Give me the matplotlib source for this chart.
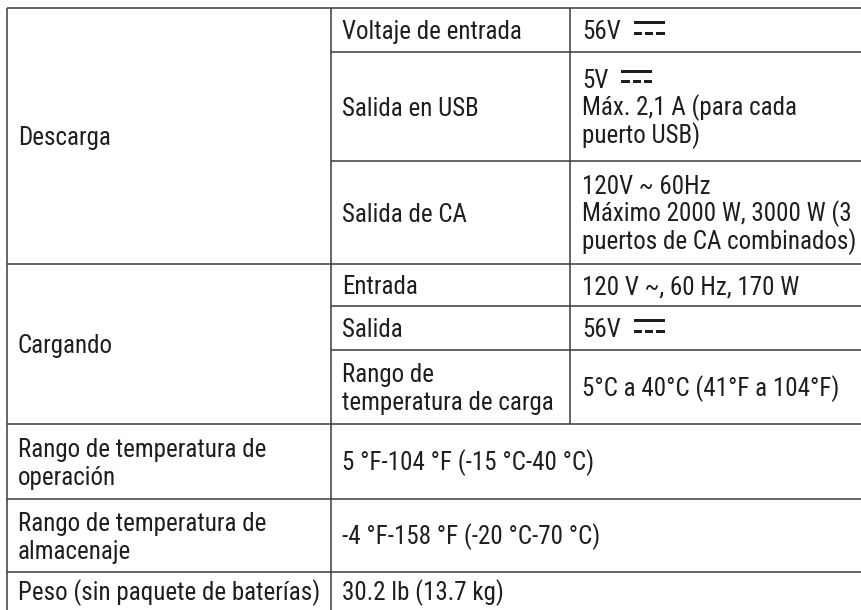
import matplotlib.pyplot as plt
from matplotlib import font_manager
from matplotlib.patches import Rectangle

# contenido de la tabla
DC = "{DC}"
descarga_labels = [["Voltaje de entrada"], ["Salida en USB"], ["Salida de CA"]]
descarga_values = [["56V" + DC],
                   ["5V" + DC, "Máx. 2,1 A (para cada", "puerto USB)"],
                   ["120V ~ 60Hz", "Máximo 2000 W, 3000 W (3", "puertos de CA combinados)"]]
cargando_labels = [["Entrada"], ["Salida"], ["Rango de", "temperatura de carga"]]
cargando_values = [["120 V ~, 60 Hz, 170 W"], ["56V" + DC], ["5°C a 40°C (41°F a 104°F)"]]
group_labels = ["Descarga", "Cargando"]
extra_labels = [["Rango de temperatura de", "operación"],
                ["Rango de temperatura de", "almacenaje"],
                ["Peso (sin paquete de baterías)"]]
extra_values = [["5 °F-104 °F (-15 °C-40 °C)"],
                ["-4 °F-158 °F (-20 °C-70 °C)"],
                ["30.2 lb (13.7 kg)"]]

# geometría (en píxeles)
W, H = 862, 610
col_x = [7, 331, 570, W]
row_y = [8, 52, 161, 264, 306, 350, 424, 499, 572, 614]
pad = [11, 11, 12]
FS = 18
CAP = 18
LEAD = 28
TXT = "#1e1e1e"
LINE = "#3c3c3c"
LW = 1.1

# fuente condensada, la primera que exista
installed = {f.name for f in font_manager.fontManager.ttflist}
candidates = ["Roboto Condensed", "Archivo Narrow", "PT Sans Narrow",
              "Pragati Narrow", "Asap Condensed", "Barlow Condensed"]
chosen = [c for c in candidates if c in installed][:1]
plt.rcParams["font.family"] = chosen + ["DejaVu Sans"]

fig = plt.figure(figsize=(W / 100, H / 100), dpi=100)
ax = fig.add_axes([0, 0, 1, 1])
ax.set_xlim(0, W)
ax.set_ylim(H, 0)
ax.axis("off")
renderer = fig.canvas.get_renderer()


# símbolo de corriente continua (línea sólida + tres guiones)
def dc_symbol(x0, base):
    w, gap, th = 31, 3, 3
    top = base - CAP
    ax.add_patch(Rectangle((x0, top), w, th, color=TXT, lw=0))
    dw = (w - 2 * gap) / 3
    for k in range(3):
        ax.add_patch(Rectangle((x0 + k * (dw + gap), top + 10.5), dw, th, color=TXT, lw=0))


def cell(x, y0, y1, lines):
    yc = (y0 + y1) / 2
    n = len(lines)
    for i, s in enumerate(lines):
        base = yc + (i - (n - 1) / 2) * LEAD + CAP / 2
        has_dc = s.endswith(DC)
        if has_dc:
            s = s[:-len(DC)]
        t = ax.text(x, base, s, ha="left", va="baseline", fontsize=FS, color=TXT)
        if has_dc:
            bb = t.get_window_extent(renderer)
            dc_symbol(bb.x1 + 13, base)


# líneas de la cuadrícula
def hline(y, x0, x1=W):
    ax.plot([x0, x1], [y, y], color=LINE, lw=LW, solid_capstyle="butt")


def vline(x, y0, y1):
    ax.plot([x, x], [y0, y1], color=LINE, lw=LW, solid_capstyle="butt")


for j, y in enumerate(row_y):
    full = j in (0, 3, 6, 7, 8, 9)
    hline(y, col_x[0] if full else col_x[1])
vline(col_x[0], row_y[0], row_y[-1])
vline(col_x[1], row_y[0], row_y[-1])
vline(col_x[2], row_y[0], row_y[6])

# textos
cell(col_x[0] + pad[0], row_y[0], row_y[3], [group_labels[0]])
cell(col_x[0] + pad[0], row_y[3], row_y[6], [group_labels[1]])
sub_labels = descarga_labels + cargando_labels
sub_values = descarga_values + cargando_values
for i in range(6):
    cell(col_x[1] + pad[1], row_y[i], row_y[i + 1], sub_labels[i])
    cell(col_x[2] + pad[2], row_y[i], row_y[i + 1], sub_values[i])
for i in range(3):
    r = 6 + i
    y1 = row_y[r + 1] if r < 8 else row_y[r] + 38
    cell(col_x[0] + pad[0], row_y[r], y1, extra_labels[i])
    cell(col_x[1] + pad[1], row_y[r], y1, extra_values[i])

fig.savefig("out.png", dpi=100)
